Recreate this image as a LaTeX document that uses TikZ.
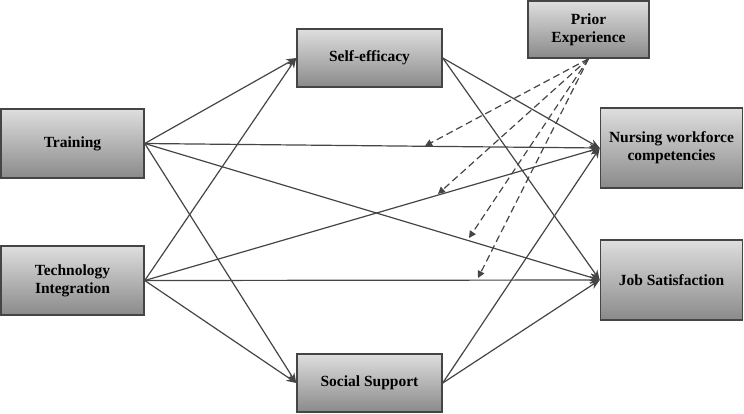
\documentclass[tikz,border=0pt]{standalone}
\usepackage{fontspec}
\setmainfont{Liberation Serif}
\usetikzlibrary{arrows.meta}
\definecolor{edgegray}{HTML}{454545}
\definecolor{boxtop}{HTML}{DEDEDE}
\definecolor{boxbot}{HTML}{8A8A8A}
\begin{document}
\begin{tikzpicture}[x=1pt,y=-1pt,
  box/.style={draw=edgegray, line width=1.5pt, top color=boxtop, bottom color=boxbot,
    font=\bfseries\fontsize{15.5}{18}\selectfont, align=center, inner sep=0pt},
  link/.style={draw=edgegray, line width=1.2pt, -{Stealth[length=10pt,width=8pt]}},
  mod/.style={draw=edgegray, line width=1.2pt, dash pattern=on 7pt off 4pt,
    -{Triangle[length=7pt,width=7pt]}}]
\useasboundingbox (0,0) rectangle (744,413);
\node[box, minimum width=143pt, minimum height=69pt] (train) at (72.5,143.5) {Training};
\node[box, minimum width=143pt, minimum height=69pt] (tech) at (72.5,280.5) {Technology\\Integration};
\node[box, minimum width=145pt, minimum height=58pt] (self) at (369.5,58) {Self-efficacy};
\node[box, minimum width=145pt, minimum height=58pt] (social) at (369.5,383) {Social Support};
\node[box, minimum width=121pt, minimum height=57pt] (prior) at (588.5,29.5) {Prior\\Experience};
\node[box, minimum width=142pt, minimum height=80pt] (nurse) at (671.5,148) {Nursing workforce\\competencies};
\node[box, minimum width=142pt, minimum height=80pt] (job) at (671.5,280) {Job Satisfaction};
\foreach \s in {train,tech}{
  \foreach \t in {self,social,nurse,job}{
    \draw[link] (\s.east) -- (\t.west);
  }
}
\foreach \s in {self,social}{
  \foreach \t in {nurse,job}{
    \draw[link] (\s.east) -- (\t.west);
  }
}
\coordinate (m1) at (425,146);
\coordinate (m2) at (438,194);
\coordinate (m3) at (469,238);
\coordinate (m4) at (478,278);
\foreach \m in {m1,m2,m3,m4}{
  \draw[mod] (prior.south) -- (\m);
}
\end{tikzpicture}
\end{document}
